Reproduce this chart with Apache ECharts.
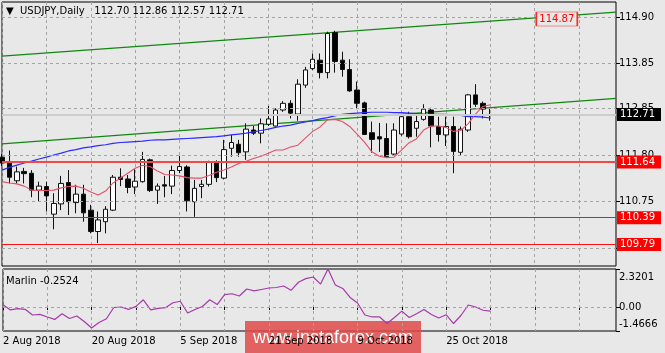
<!DOCTYPE html>
<html>
<head>
<meta charset="utf-8">
<script src="https://cdn.jsdelivr.net/npm/echarts@6/dist/echarts.min.js"></script>
<style>
  html, body { margin: 0; padding: 0; background: #e8e8e8; }
  #chart { width: 665px; height: 353px; }
</style>
</head>
<body>
<div id="chart"></div>
<script>
// trading days shown on the chart
const augDays = [2, 3, 6, 7, 8, 9, 10, 13, 14, 15, 16, 17, 20, 21, 22, 23, 24, 27, 28, 29, 30, 31];
const sepDays = [3, 4, 5, 6, 7, 10, 11, 12, 13, 14, 17, 18, 19, 20, 21, 24, 25, 26, 27, 28];
const octDays = [1, 2, 3, 4, 5, 8, 9, 10, 11, 12, 15, 16, 17, 18, 19, 22, 23, 24, 25, 26, 29, 30, 31];
const novDays = [1, 2];
const emptySlots = 17; // free space right of the last bar

// USDJPY daily OHLC
const opens = [111.75, 111.65, 111.22, 111.43, 111.39, 111.01, 111.09, 110.47, 110.70, 111.18,
  110.73, 110.92, 110.56, 110.08, 110.30, 110.56, 111.30, 111.26, 111.08, 111.20,
  111.69, 111.01, 111.13, 111.10, 111.45, 111.53, 110.75, 111.09, 111.14, 111.63,
  111.28, 111.95, 112.04, 111.87, 112.36, 112.29, 112.49, 112.45, 112.81, 112.96,
  112.72, 113.37, 113.74, 113.93, 113.65, 114.55, 113.93, 113.72, 113.26, 112.97,
  112.30, 112.21, 112.17, 111.82, 112.27, 112.66, 112.40, 112.60, 112.81, 112.44,
  112.25, 112.44, 111.86, 112.36, 113.15, 112.96, 112.70];
const highs = [111.82, 111.90, 111.54, 111.51, 111.46, 111.20, 111.20, 110.94, 111.33, 111.46,
  111.13, 111.13, 110.68, 110.53, 110.65, 111.35, 111.50, 111.35, 111.48, 111.87,
  111.72, 111.16, 111.33, 111.56, 111.78, 111.57, 111.24, 111.24, 111.67, 111.68,
  112.14, 112.25, 112.14, 112.51, 112.45, 112.62, 112.90, 112.85, 113.01, 113.03,
  113.50, 113.78, 114.08, 114.08, 114.57, 114.59, 114.12, 113.95, 113.45, 113.00,
  112.55, 112.52, 112.51, 112.51, 112.72, 112.77, 112.74, 112.94, 112.86, 112.66,
  112.66, 112.66, 112.44, 113.17, 113.39, 113.00, 112.86];
const lows = [111.55, 111.16, 111.16, 111.16, 110.85, 110.75, 110.53, 110.13, 110.56, 110.45,
  110.49, 110.30, 110.04, 109.82, 110.04, 110.54, 111.10, 110.94, 110.92, 111.18,
  110.97, 110.70, 110.85, 110.92, 111.39, 110.53, 110.41, 110.83, 111.09, 111.19,
  111.25, 111.76, 111.76, 111.69, 112.25, 112.06, 112.45, 112.44, 112.77, 112.62,
  112.57, 113.31, 113.71, 113.52, 113.52, 113.65, 113.56, 113.22, 112.83, 112.25,
  111.85, 111.87, 111.74, 111.78, 112.23, 112.17, 112.21, 112.57, 111.97, 112.10,
  112.00, 111.39, 111.80, 112.32, 112.88, 112.62, 112.57];
const closes = [111.62, 111.30, 111.42, 111.38, 111.01, 111.10, 110.88, 110.71, 111.16, 110.75,
  110.92, 110.50, 110.08, 110.34, 110.58, 111.30, 111.25, 111.07, 111.21, 111.70,
  111.00, 111.10, 111.10, 111.45, 111.54, 110.77, 111.05, 111.14, 111.63, 111.29,
  111.92, 112.08, 111.85, 112.38, 112.29, 112.50, 112.61, 112.81, 112.96, 112.74,
  113.39, 113.71, 113.95, 113.65, 114.53, 113.90, 113.72, 113.24, 112.96, 112.26,
  112.15, 112.16, 111.76, 112.36, 112.66, 112.21, 112.55, 112.83, 112.45, 112.26,
  112.44, 111.88, 112.38, 113.15, 112.94, 112.83, 112.71];

// moving averages
const maSlow = [111.46, 111.52, 111.57, 111.62, 111.66, 111.71, 111.75, 111.80, 111.84, 111.89,
  111.92, 111.96, 111.98, 112.01, 112.03, 112.06, 112.08, 112.09, 112.10, 112.11,
  112.13, 112.14, 112.14, 112.15, 112.16, 112.17, 112.18, 112.19, 112.20, 112.21,
  112.23, 112.25, 112.27, 112.29, 112.32, 112.35, 112.38, 112.42, 112.45, 112.47,
  112.51, 112.54, 112.57, 112.61, 112.64, 112.68, 112.71, 112.73, 112.74, 112.75,
  112.76, 112.76, 112.76, 112.75, 112.75, 112.74, 112.73, 112.72, 112.72, 112.71,
  112.71, 112.70, 112.69, 112.66, 112.66, 112.65, 112.63];
const maFast = [111.20, 111.17, 111.15, 111.10, 111.01, 111.00, 111.00, 111.01, 111.06, 111.09,
  111.10, 111.05, 110.97, 110.90, 110.99, 111.17, 111.28, 111.39, 111.50, 111.57,
  111.54, 111.44, 111.36, 111.35, 111.33, 111.29, 111.28, 111.28, 111.34, 111.41,
  111.46, 111.53, 111.61, 111.66, 111.72, 111.77, 111.84, 111.91, 111.91, 111.98,
  112.02, 112.18, 112.33, 112.43, 112.59, 112.60, 112.55, 112.44, 112.27, 112.09,
  111.87, 111.77, 111.74, 111.75, 111.91, 112.07, 112.16, 112.36, 112.45, 112.45,
  112.42, 112.33, 112.35, 112.50, 112.72, 112.89, 112.93];

// Marlin oscillator
const marlin = [0.14, -0.18, -0.10, -0.14, -0.49, -0.45, -0.61, -0.76, -0.41, -0.70,
  -0.55, -0.89, -1.28, -0.95, -0.72, -0.03, 0.00, -0.15, 0.04, 0.44,
  -0.18, -0.09, -0.04, 0.26, 0.35, -0.37, -0.15, 0.03, 0.44, 0.15,
  0.76, 0.81, 0.67, 1.10, 0.98, 1.07, 1.16, 1.19, 1.28, 1.02,
  1.51, 1.73, 1.83, 1.40, 2.32, 1.34, 1.13, 0.58, 0.24, -0.49,
  -0.61, -0.61, -1.01, -0.64, -0.25, -0.64, -0.41, -0.15, -0.46, -0.67,
  -0.47, -1.01, -0.52, 0.12, 0.00, -0.20, -0.2524];

// trend lines: [first bar value, last slot value]
const trendUpper = [114.02, 115.01];
const trendLower = [112.05, 113.07];
const trendUpperLabel = '114.87';

// horizontal levels
const supportLevels = [111.64, 110.39, 109.79];
const bidPrice = 112.71;

// axis ticks
const priceTicks = [109.70, 110.75, 111.80, 112.85, 113.85, 114.90];
const marlinTicks = [-1.4666, 0, 2.3201];
const marlinTickLabels = ['-1.4666', '0.00', '2.3201'];

const dates = [];
[['Aug', augDays], ['Sep', sepDays], ['Oct', octDays], ['Nov', novDays]].forEach(function (m) {
  m[1].forEach(function (d) { dates.push(d + ' ' + m[0] + ' 2018'); });
});
const categories = dates.concat(new Array(emptySlots).fill(''));
const lastSlot = categories.length - 1;
const last = opens.length - 1;

const font = 'DejaVu Sans';
const chart = echarts.init(document.getElementById('chart'));

const dashed = { color: '#a4a4a4', type: [3, 3], width: 1 };

// price grid lines, drawn under the candles
const priceGrid = priceTicks.map(function (v) { return { yAxis: v, lineStyle: dashed, label: { show: false } }; });

const levelLines = supportLevels.map(function (v, i) {
  return {
    yAxis: v,
    lineStyle: { color: i === 0 ? '#f24848' : '#ff1010', width: i === 0 ? 2 : 1, type: 'solid' },
    label: {
      show: true, position: 'end', distance: 1, formatter: v.toFixed(2),
      color: '#fff', backgroundColor: '#ff0000', padding: [1, 6, 0, 3],
      fontFamily: font, fontSize: 10, lineHeight: 12
    }
  };
});
levelLines.unshift({
  yAxis: bidPrice,
  lineStyle: { color: '#cdcdcd', width: 2, type: 'solid' },
  label: {
    show: true, position: 'end', distance: 1, formatter: bidPrice.toFixed(2),
    color: '#fff', backgroundColor: '#000', padding: [1, 6, 0, 3],
    fontFamily: font, fontSize: 10, lineHeight: 12
  }
});

const option = {
  animation: false,
  backgroundColor: '#e8e8e8',
  title: [
    {
      text: '▼  USDJPY,Daily   ' + [opens[last], highs[last], lows[last], closes[last]].map(function (v) { return v.toFixed(2); }).join(' '),
      left: 6, top: 6, padding: 0,
      textStyle: { fontFamily: font, fontSize: 10, fontWeight: 'normal', color: '#000' }
    },
    {
      text: 'Marlin ' + marlin[last].toFixed(4),
      left: 6, top: 276, padding: 0,
      textStyle: { fontFamily: font, fontSize: 10, fontWeight: 'normal', color: '#000' }
    }
  ],
  grid: [
    { left: 2, right: 49, top: 2, bottom: 87, show: true, borderColor: '#000', borderWidth: 1, backgroundColor: 'transparent' },
    { left: 2, right: 49, top: 269, bottom: 22, show: true, borderColor: '#000', borderWidth: 1, backgroundColor: 'transparent' }
  ],
  xAxis: [
    {
      type: 'category', gridIndex: 0, data: categories, boundaryGap: false,
      axisLine: { show: false }, axisTick: { show: false }, axisLabel: { show: false },
      splitLine: { show: true, interval: 5, lineStyle: dashed }
    },
    {
      type: 'category', gridIndex: 1, data: categories, boundaryGap: false,
      axisLine: { show: false },
      axisTick: { show: true, interval: 5, length: 3, lineStyle: { color: '#000' } },
      axisLabel: { interval: 11, align: 'left', margin: 5, color: '#000', fontFamily: font, fontSize: 10 },
      splitLine: { show: true, interval: 5, lineStyle: dashed }
    }
  ],
  yAxis: [
    {
      type: 'value', gridIndex: 0, position: 'right', min: 109.305, max: 115.237, scale: true,
      axisLine: { show: false },
      axisTick: { show: true, length: 4, customValues: priceTicks, lineStyle: { color: '#000' } },
      axisLabel: {
        customValues: priceTicks, margin: 3, color: '#000', fontFamily: font, fontSize: 10,
        formatter: function (v) { return v.toFixed(2); }
      },
      splitLine: { show: false }
    },
    {
      type: 'value', gridIndex: 1, position: 'right', min: marlinTicks[0], max: marlinTicks[2],
      axisLine: { show: false },
      axisTick: { show: true, length: 4, customValues: marlinTicks, lineStyle: { color: '#000' } },
      axisLabel: {
        customValues: marlinTicks, margin: 3, color: '#000', fontFamily: font, fontSize: 10,
        formatter: function (v) {
          const i = marlinTicks.indexOf(v);
          if (i === 2) return '{top|' + marlinTickLabels[i] + '}';
          if (i === 0) return '{bot|' + marlinTickLabels[i] + '}';
          return marlinTickLabels[1];
        },
        rich: {
          top: { padding: [16, 0, 0, 0], fontFamily: font, fontSize: 10, color: '#000' },
          bot: { padding: [0, 0, 14, 0], fontFamily: font, fontSize: 10, color: '#000' }
        }
      },
      splitLine: { show: false }
    }
  ],
  series: [
    {
      type: 'line', xAxisIndex: 0, yAxisIndex: 0, silent: true, symbol: 'none',
      data: [[0, trendLower[0]], [lastSlot, trendLower[1]]],
      lineStyle: { color: '#10880f', width: 1.3 }, z: 1,
      markLine: { silent: true, symbol: 'none', animation: false, data: priceGrid }
    },
    {
      type: 'line', xAxisIndex: 0, yAxisIndex: 0, silent: true, symbol: 'none',
      data: [[0, trendUpper[0]], [lastSlot, trendUpper[1]]],
      lineStyle: { color: '#10880f', width: 1.3 }, z: 1,
      markPoint: {
        silent: true,
        data: [{
          coord: [75, 114.855], symbol: 'rect', symbolSize: [41, 14],
          itemStyle: { color: '#e8e8e8', borderColor: '#ff2a2a', borderWidth: 1 },
          label: { show: true, position: 'inside', formatter: trendUpperLabel, color: '#ff0000', fontFamily: font, fontSize: 10 }
        }]
      }
    },
    {
      type: 'candlestick', xAxisIndex: 0, yAxisIndex: 0, barWidth: 5,
      data: opens.map(function (o, i) { return [o, closes[i], lows[i], highs[i]]; }),
      itemStyle: { color: '#ffffff', color0: '#000000', borderColor: '#111', borderColor0: '#111', borderWidth: 1 },
      markLine: { silent: true, symbol: 'none', animation: false, data: levelLines },
      z: 3
    },
    {
      type: 'line', xAxisIndex: 0, yAxisIndex: 0, silent: true, symbol: 'none', data: maSlow,
      lineStyle: { color: '#2b2bff', width: 1.2 }, z: 4
    },
    {
      type: 'line', xAxisIndex: 0, yAxisIndex: 0, silent: true, symbol: 'none', data: maFast,
      lineStyle: { color: '#e4506a', width: 1.1 }, z: 4
    },
    {
      type: 'line', xAxisIndex: 1, yAxisIndex: 1, silent: true, symbol: 'none', data: marlin,
      lineStyle: { color: '#a63aa9', width: 1.2 },
      markLine: { silent: true, symbol: 'none', animation: false, data: [{ yAxis: marlinTicks[1], lineStyle: dashed, label: { show: false } }] }
    }
  ],
  graphic: [
    {
      type: 'group', left: 245, top: 321, z: 100,
      children: [
        { type: 'rect', shape: { x: 0, y: 0, width: 176, height: 32 }, style: { fill: 'rgba(224, 74, 74, 0.85)' } },
        {
          type: 'text', x: 88, y: 17,
          style: { text: 'www.instaforex.com', fill: '#fff', font: '18px "Liberation Sans"', align: 'center', verticalAlign: 'middle' }
        }
      ]
    }
  ]
};

chart.setOption(option);
</script>
</body>
</html>
